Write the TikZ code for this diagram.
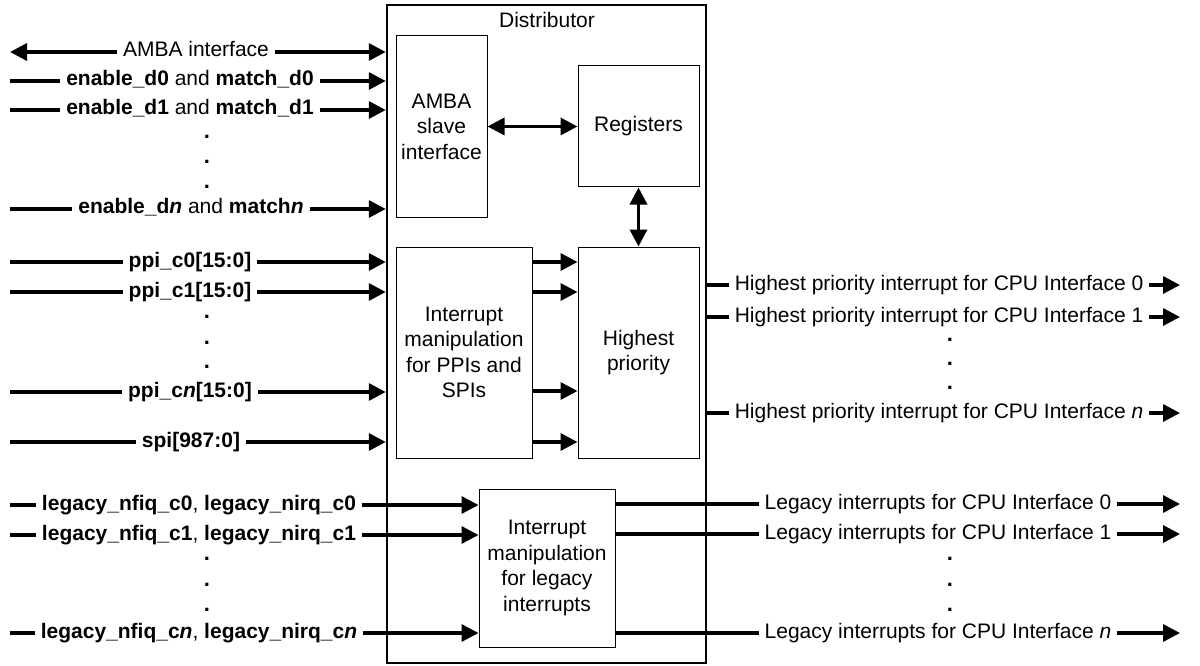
\documentclass[tikz,border=0pt]{standalone}
\usepackage{fontspec}
\setmainfont{Liberation Sans}
\usetikzlibrary{arrows.meta}

\begin{document}
\begin{tikzpicture}[x=1pt,y=-1pt,
  every node/.style={font=\fontsize{21}{25.5}\selectfont},
  blk/.style={draw, line width=1pt, align=center, inner sep=0pt},
  outer/.style={draw, line width=2.5pt, inner sep=0pt},
  head/.tip={Triangle[length=17pt,width=17pt]},
  wire/.style={line width=3.4pt, -head},
  wire2/.style={line width=3.4pt, head-head},
  lab/.style={fill=white, inner xsep=6pt, inner ysep=0pt, text height=15pt, text depth=5pt},
  dotm/.style={font=\fontsize{22}{25}\selectfont\bfseries, inner sep=0pt, anchor=base}
]
\useasboundingbox (0,0) rectangle (1200,666);

% Distributor and its blocks
\node[outer, minimum width=319pt, minimum height=658pt] (dist) at (546.5,334) {};
\node (dtitle) at (547,20) {Distributor};
\node[blk, minimum width=91pt, minimum height=181pt] (amba) at (441.5,126.5) {AMBA\\slave\\interface};
\node[blk, minimum width=121pt, minimum height=121pt] (reg) at (638.5,126.5) {Registers};
\node[blk, minimum width=121pt, minimum height=211pt] (hp) at (638.5,352.5) {Highest\\priority};
\node[blk, minimum width=136pt, minimum height=211pt] (ppi) at (464,352.5) {Interrupt\\manipulation\\for PPIs and\\SPIs};
\node[blk, minimum width=136pt, minimum height=158pt] (leg) at (547,568) {Interrupt\\manipulation\\for legacy\\interrupts};

% Internal paths
\draw[wire2] (amba) -- (reg);
\draw[wire2] (reg) -- (hp);
\foreach \yy in {262,292,391,442}
  \draw[wire] (ppi.east |- 0,\yy) -- (hp.west |- 0,\yy);

% Inputs on the left
\coordinate (iamba) at (10,52);
\coordinate (ie0) at (10,81);
\coordinate (ie1) at (10,110);
\coordinate (ien) at (10,209);
\coordinate (ip0) at (10,262);
\coordinate (ip1) at (10,292);
\coordinate (ipn) at (10,392);
\coordinate (ispi) at (10,442);
\coordinate (il0) at (10,505);
\coordinate (il1) at (10,535);
\coordinate (iln) at (10,633);

\draw[wire2] (iamba) -- (dist.west |- iamba);
\foreach \c in {ie0,ie1,ien,ip0,ip1,ipn,ispi}
  \draw[wire] (\c) -- (dist.west |- \c);
\foreach \c in {il0,il1,iln}
  \draw[wire] (\c) -- (leg.west |- \c);

\node[lab] (lamba) at (196,52) {AMBA interface};
\node[lab] (le0) at (190,81) {\textbf{enable\_d0} and \textbf{match\_d0}};
\node[lab] (le1) at (190,110) {\textbf{enable\_d1} and \textbf{match\_d1}};
\node[lab] (len) at (191,209) {\textbf{enable\_d\textit{n}} and \textbf{match\textit{n}}};
\node[lab] (lp0) at (190,262) {\textbf{ppi\_c0[15:0]}};
\node[lab] (lp1) at (190,292) {\textbf{ppi\_c1[15:0]}};
\node[lab] (lpn) at (190,392) {\textbf{ppi\_c\textit{n}[15:0]}};
\node[lab] (lspi) at (191,442) {\textbf{spi[987:0]}};
\node[lab] (ll0) at (199,505) {\textbf{legacy\_nfiq\_c0}, \textbf{legacy\_nirq\_c0}};
\node[lab] (ll1) at (199,535) {\textbf{legacy\_nfiq\_c1}, \textbf{legacy\_nirq\_c1}};
\node[lab] (lln) at (199,633) {\textbf{legacy\_nfiq\_c\textit{n}}, \textbf{legacy\_nirq\_c\textit{n}}};

% Outputs on the right
\coordinate (oh0) at (1180,285);
\coordinate (oh1) at (1180,317);
\coordinate (ohn) at (1180,413);
\coordinate (ol0) at (1180,504);
\coordinate (ol1) at (1180,534);
\coordinate (oln) at (1180,633);

\foreach \c in {oh0,oh1,ohn}
  \draw[wire] (dist.east |- \c) -- (\c);
\foreach \c in {ol0,ol1,oln}
  \draw[wire] (leg.east |- \c) -- (\c);

\node[lab] (lh0) at (939,285) {Highest priority interrupt for CPU Interface 0};
\node[lab] (lh1) at (939,317) {Highest priority interrupt for CPU Interface 1};
\node[lab] (lhn) at (939,413) {Highest priority interrupt for CPU Interface \textit{n}};
\node[lab] (lo0) at (938,504) {Legacy interrupts for CPU Interface 0};
\node[lab] (lo1) at (938,534) {Legacy interrupts for CPU Interface 1};
\node[lab] (lon) at (938,633) {Legacy interrupts for CPU Interface \textit{n}};

% Ellipsis dots
\foreach \yy [count=\i] in {138.5,163.5,188.5} \node[dotm] (de\i) at (207,\yy) {.};
\foreach \yy [count=\i] in {318.5,344.5,368.5} \node[dotm] (dp\i) at (207,\yy) {.};
\foreach \yy [count=\i] in {560.5,586.5,611.5} \node[dotm] (dl\i) at (207,\yy) {.};
\foreach \yy [count=\i] in {341.5,365.5,389.5} \node[dotm] (dh\i) at (950,\yy) {.};
\foreach \yy [count=\i] in {560.5,586.5,611.5} \node[dotm] (do\i) at (950,\yy) {.};
\end{tikzpicture}
\end{document}
